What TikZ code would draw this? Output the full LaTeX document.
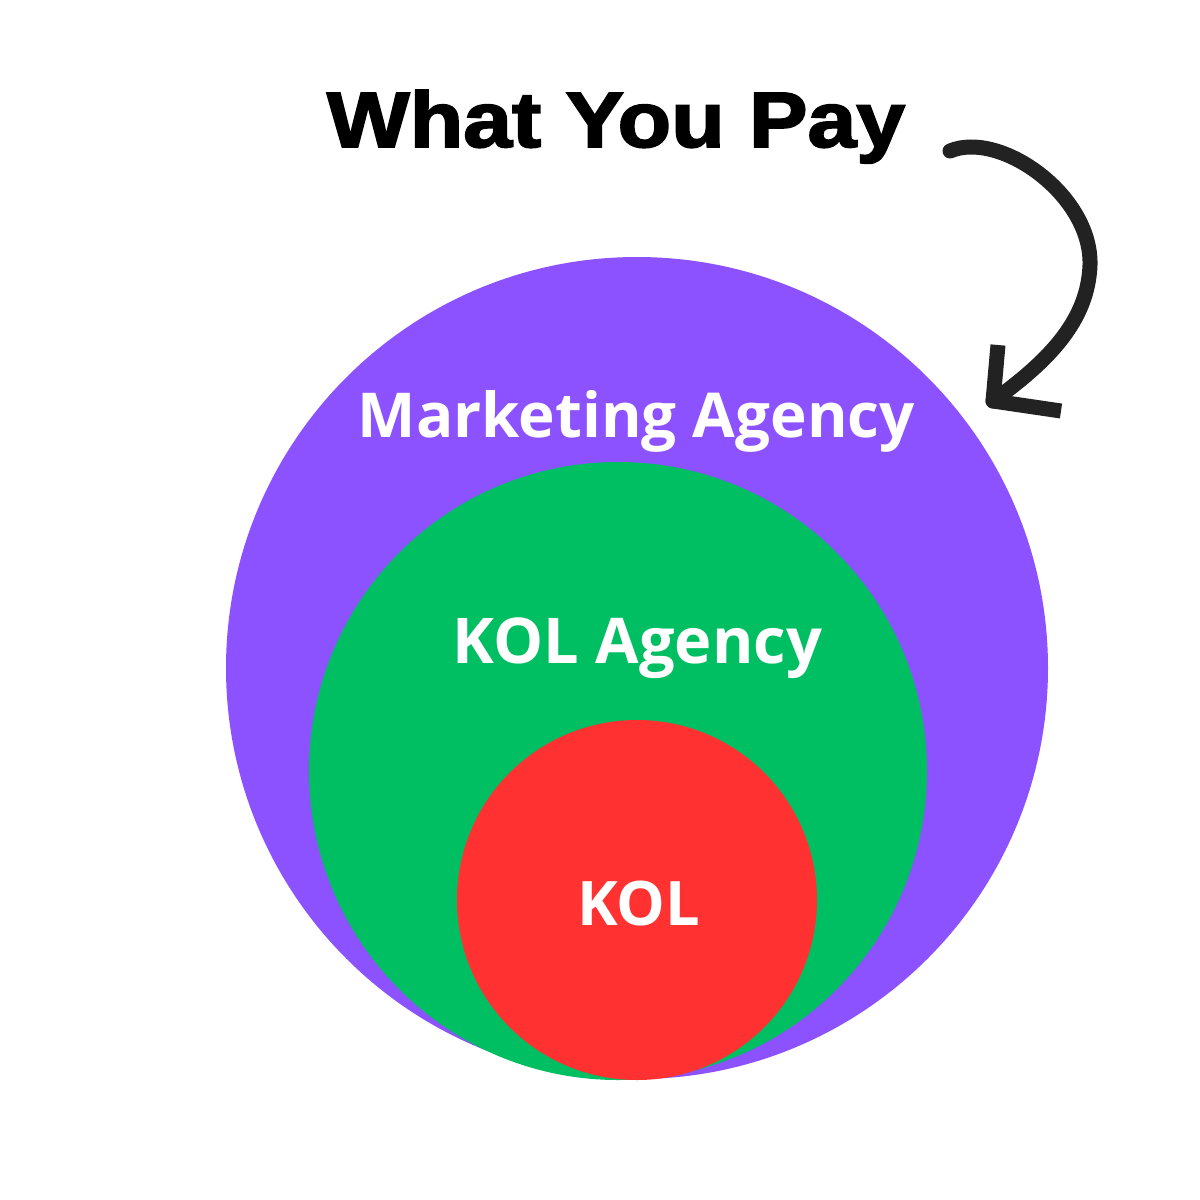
\documentclass[tikz,border=0pt]{standalone}
\usepackage{fontspec}
\setmainfont{Open Sans}
\newfontfamily\titlefont[FakeBold=2.2]{Liberation Sans Bold}
\newfontfamily\labelfont{Open Sans Bold}
\definecolor{mkpurple}{HTML}{8C52FF}
\definecolor{kolgreen}{HTML}{00BF63}
\definecolor{kolred}{HTML}{FF3131}
\definecolor{inkblack}{HTML}{222222}
\begin{document}
\begin{tikzpicture}[x=0.5pt,y=-0.5pt,
  ring/.style={circle,inner sep=0pt,draw=none},
  lbl/.style={anchor=base,inner sep=0pt,text=white},
  ink/.style={draw=inkblack,line width=7.5pt}]
\useasboundingbox (0,0) rectangle (1200,1200);
\fill[white] (0,0) rectangle (1200,1200);
% circles
\node[ring,fill=mkpurple,minimum size=411pt] (outer) at (637,668) {};
\node[ring,fill=kolgreen,minimum size=309pt] (middle) at (618,771) {};
\node[ring,fill=kolred,minimum size=180pt] (inner) at (637,900) {};
% labels
\node[lbl] (mktext) at (636.5,437) {\resizebox{278.5pt}{!}{\labelfont Marketing Agency}};
\node[lbl] (koltext) at (637.5,663) {\resizebox{184.5pt}{!}{\labelfont KOL Agency}};
\node[lbl] (koltxt) at (638.5,925) {\resizebox{61.5pt}{!}{\labelfont KOL}};
% title
\node[anchor=base,inner sep=0pt] (title) at (616,147) {\resizebox{289pt}{28.5pt}{\titlefont What You Pay}};
% arrow
\coordinate (astart) at (950,151);
\coordinate (amid) at (1090,265);
\coordinate (atip) at (993,401);
\coordinate (armup) at (998,345);
\coordinate (armright) at (1061,411);
\draw[ink,line cap=round] (astart) .. controls (1000,130) and (1092,195) .. (amid)
  .. controls (1088,320) and (1050,360) .. (atip);
\draw[ink,line cap=butt,line join=round] (armup) -- (atip) -- (armright);
\end{tikzpicture}
\end{document}
